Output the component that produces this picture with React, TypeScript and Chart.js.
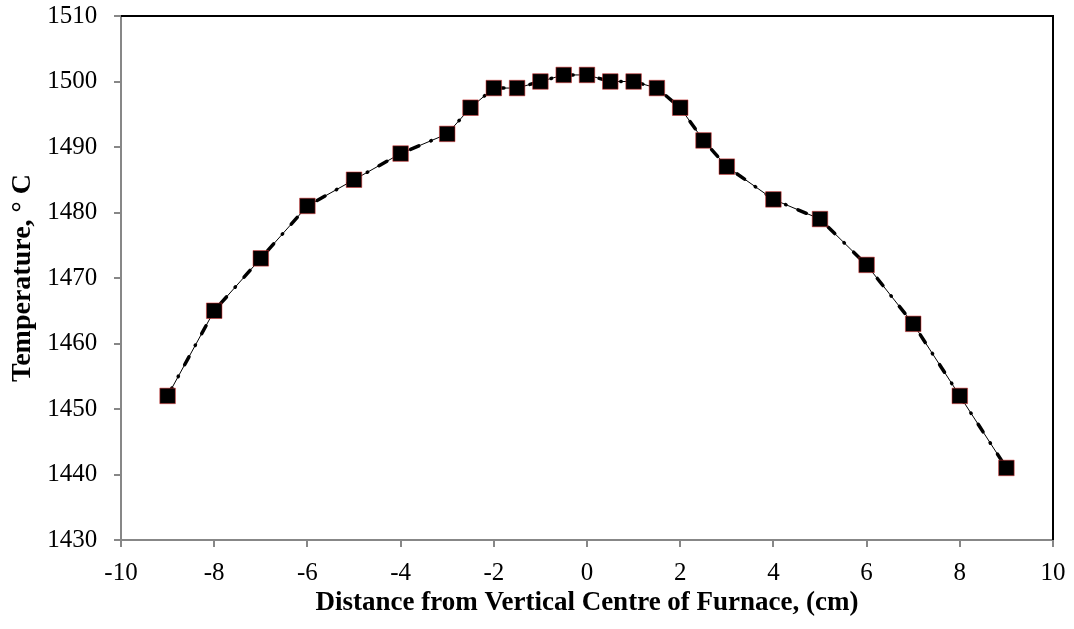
import React, { useEffect, useRef } from "react";
import { Chart, registerables } from "chart.js";

Chart.register(...registerables);

// Distance from the furnace's vertical centre (cm)
const distances = [-9, -8, -7, -6, -5, -4, -3, -2.5, -2, -1.5, -1, -0.5, 0, 0.5, 1, 1.5, 2, 2.5, 3, 4, 5, 6, 7, 8, 9];
// Measured temperature (°C)
const temperatures = [1452, 1465, 1473, 1481, 1485, 1489, 1492, 1496, 1499, 1499, 1500, 1501, 1501, 1500, 1500, 1499, 1496, 1491, 1487, 1482, 1479, 1472, 1463, 1452, 1441];

const xTicks = [-10, -8, -6, -4, -2, 0, 2, 4, 6, 8, 10];
const yTicks = [1430, 1440, 1450, 1460, 1470, 1480, 1490, 1500, 1510];

const FONT = '"Liberation Serif", "Times New Roman", serif';

// Black frame along the top and right of the plot area
const frameLines = {
  id: "frameLines",
  afterDatasetsDraw(chart: any) {
    const { ctx, chartArea } = chart;
    ctx.save();
    ctx.strokeStyle = "#000";
    ctx.lineWidth = 2;
    ctx.beginPath();
    ctx.moveTo(chartArea.left, chartArea.top);
    ctx.lineTo(chartArea.right, chartArea.top);
    ctx.lineTo(chartArea.right, chartArea.bottom);
    ctx.stroke();
    ctx.restore();
  },
};

export default function App() {
  const canvasRef = useRef<HTMLCanvasElement | null>(null);

  useEffect(() => {
    if (!canvasRef.current) return;
    const points = distances.map((x, i) => ({ x, y: temperatures[i] }));

    const chart = new Chart(canvasRef.current, {
      type: "line",
      data: {
        datasets: [
          {
            label: "markers",
            data: points,
            showLine: false,
            pointStyle: "rect",
            pointRadius: 11,
            pointBackgroundColor: "#000",
            pointBorderColor: "rgba(215,50,50,0.55)",
            pointBorderWidth: 1,
          },
          {
            label: "dash-dot",
            data: points,
            borderColor: "#000",
            borderWidth: 3.5,
            borderDash: [9, 13, 0.5, 13],
            borderCapStyle: "round",
            pointRadius: 0,
            tension: 0,
          },
          {
            label: "solid",
            data: points,
            borderColor: "#000",
            borderWidth: 1,
            pointRadius: 0,
            tension: 0,
          },
        ],
      },
      options: {
        animation: false,
        responsive: false,
        layout: { autoPadding: false, padding: { top: 16, right: 21, left: 0, bottom: 0 } },
        plugins: {
          legend: { display: false },
          tooltip: { enabled: false },
        },
        scales: {
          x: {
            type: "linear",
            min: -10,
            max: 10,
            afterBuildTicks: (scale: any) => {
              scale.ticks = xTicks.map((v) => ({ value: v }));
            },
            afterFit: (scale: any) => {
              scale.height = 89;
              scale.paddingLeft = 0;
              scale.paddingRight = 0;
            },
            grid: { drawOnChartArea: false, drawTicks: true, tickLength: 7, color: "#878787", lineWidth: 2 },
            border: { display: true, color: "#878787", width: 2 },
            ticks: {
              color: "#000",
              padding: 11.4,
              font: { family: FONT, size: 25 },
              callback: (v: any) => String(v),
            },
            title: {
              display: true,
              text: "Distance from Vertical Centre of Furnace, (cm)",
              color: "#000",
              font: { family: FONT, size: 27, weight: "bold" },
              padding: { top: 0, bottom: 9.3 },
            },
          },
          y: {
            type: "linear",
            min: 1430,
            max: 1510,
            afterBuildTicks: (scale: any) => {
              scale.ticks = yTicks.map((v) => ({ value: v }));
            },
            afterFit: (scale: any) => {
              scale.width = 121;
              scale.paddingTop = 0;
              scale.paddingBottom = 0;
            },
            grid: { drawOnChartArea: false, drawTicks: true, tickLength: 7, color: "#878787", lineWidth: 2 },
            border: { display: true, color: "#878787", width: 2 },
            ticks: {
              color: "#000",
              padding: 16.7,
              font: { family: FONT, size: 25 },
              callback: (v: any) => String(v),
            },
            title: {
              display: true,
              text: "Temperature, ° C",
              color: "#000",
              font: { family: FONT, size: 28, weight: "bold" },
              padding: { top: 5.6, bottom: 0 },
            },
          },
        },
      },
      plugins: [frameLines],
    } as any);

    return () => chart.destroy();
  }, []);

  return (
    <div style={{ position: "absolute", left: 0, top: 0, width: 1074, height: 629, background: "#fff" }}>
      <canvas ref={canvasRef} width={1074} height={629} />
    </div>
  );
}
